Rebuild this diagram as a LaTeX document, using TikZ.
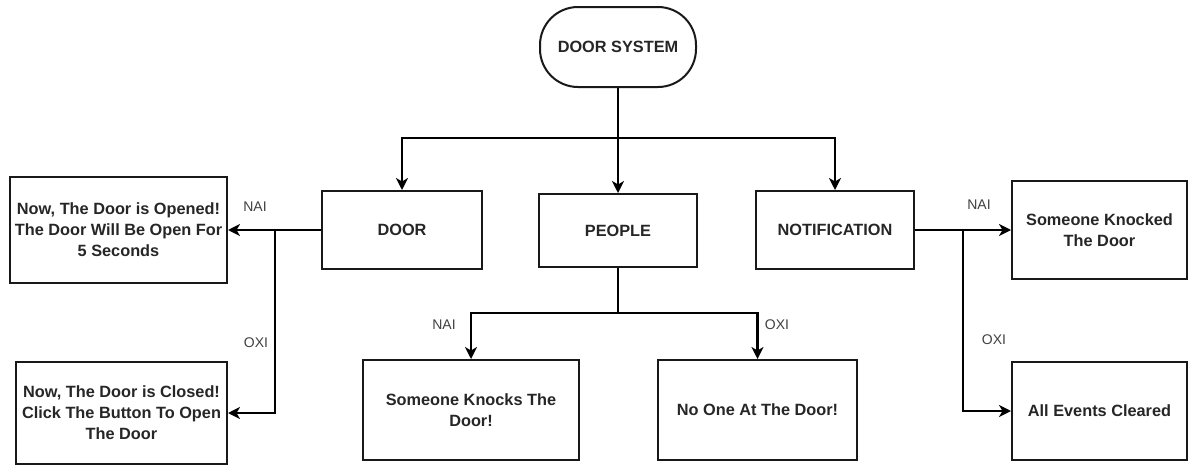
\documentclass[tikz,border=0pt]{standalone}
\usepackage{fontspec}
\setmainfont{Liberation Sans}
\usetikzlibrary{arrows.meta,calc}
\begin{document}
\begin{tikzpicture}[x=1pt,y=-1pt,
 box/.style={draw=black!90, line width=2pt, align=center, inner sep=1pt, font=\bfseries\fontsize{16.3}{21}\selectfont, text=black!85},
 lbl/.style={font=\fontsize{14}{16}\selectfont, text=black!75},
 arr/.style={line width=2.2pt, -{Stealth[length=12pt,width=12pt,inset=3.5pt]}},
 ln/.style={line width=2.2pt}]
\useasboundingbox (0,0) rectangle (1188,466);
\node[box, minimum width=156pt, minimum height=80pt, rounded corners=38pt] (sys) at (618,47) {DOOR SYSTEM};
\node[box, minimum width=160pt, minimum height=78pt] (door) at (402,230) {DOOR};
\node[box, minimum width=158pt, minimum height=73pt] (people) at (618,230.5) {PEOPLE};
\node[box, minimum width=158pt, minimum height=78pt] (notif) at (835,230) {NOTIFICATION};
\node[box, minimum width=217pt, minimum height=106pt] (b1) at (118.5,230) {Now, The Door is Opened!\\The Door Will Be Open For\\5 Seconds};
\node[box, minimum width=211pt, minimum height=102pt] (b2) at (121.5,413) {Now, The Door is Closed!\\Click The Button To Open\\The Door};
\node[box, minimum width=216pt, minimum height=100pt] (b3) at (471,410) {Someone Knocks The\\Door!};
\node[box, minimum width=199pt, minimum height=100pt] (b4) at (757.5,410) {No One At The Door!};
\node[box, minimum width=175pt, minimum height=98pt] (b5) at (1099.5,230) {Someone Knocked\\The Door};
\node[box, minimum width=175pt, minimum height=98pt] (b6) at (1099.5,411) {All Events Cleared};
\coordinate (j1) at (618,138);
\coordinate (j2) at (275,230);
\coordinate (j3) at (618,313);
\coordinate (j4) at (963,230);
\draw[ln] (sys.south) -- (j1);
\draw[arr] (j1) -| (door.north);
\draw[arr] (j1) -- (people.north);
\draw[arr] (j1) -| (notif.north);
\draw[arr] (door.west) -- (b1.east);
\draw[arr] (j2) |- (b2.east);
\draw[ln] (people.south) -- (j3);
\draw[arr] (j3) -| (b3.north);
\draw[arr] (j3) -| (b4.north);
\draw[arr] (notif.east) -- (b5.west);
\draw[arr] (j4) |- (b6.west);
\node[lbl] (l1) at (255,207) {NAI};
\node[lbl] (l2) at (256,343) {OXI};
\node[lbl] (l3) at (444,325) {NAI};
\node[lbl] (l4) at (777,325) {OXI};
\node[lbl] (l5) at (979,205) {NAI};
\node[lbl] (l6) at (994,340) {OXI};
\end{tikzpicture}
\end{document}
